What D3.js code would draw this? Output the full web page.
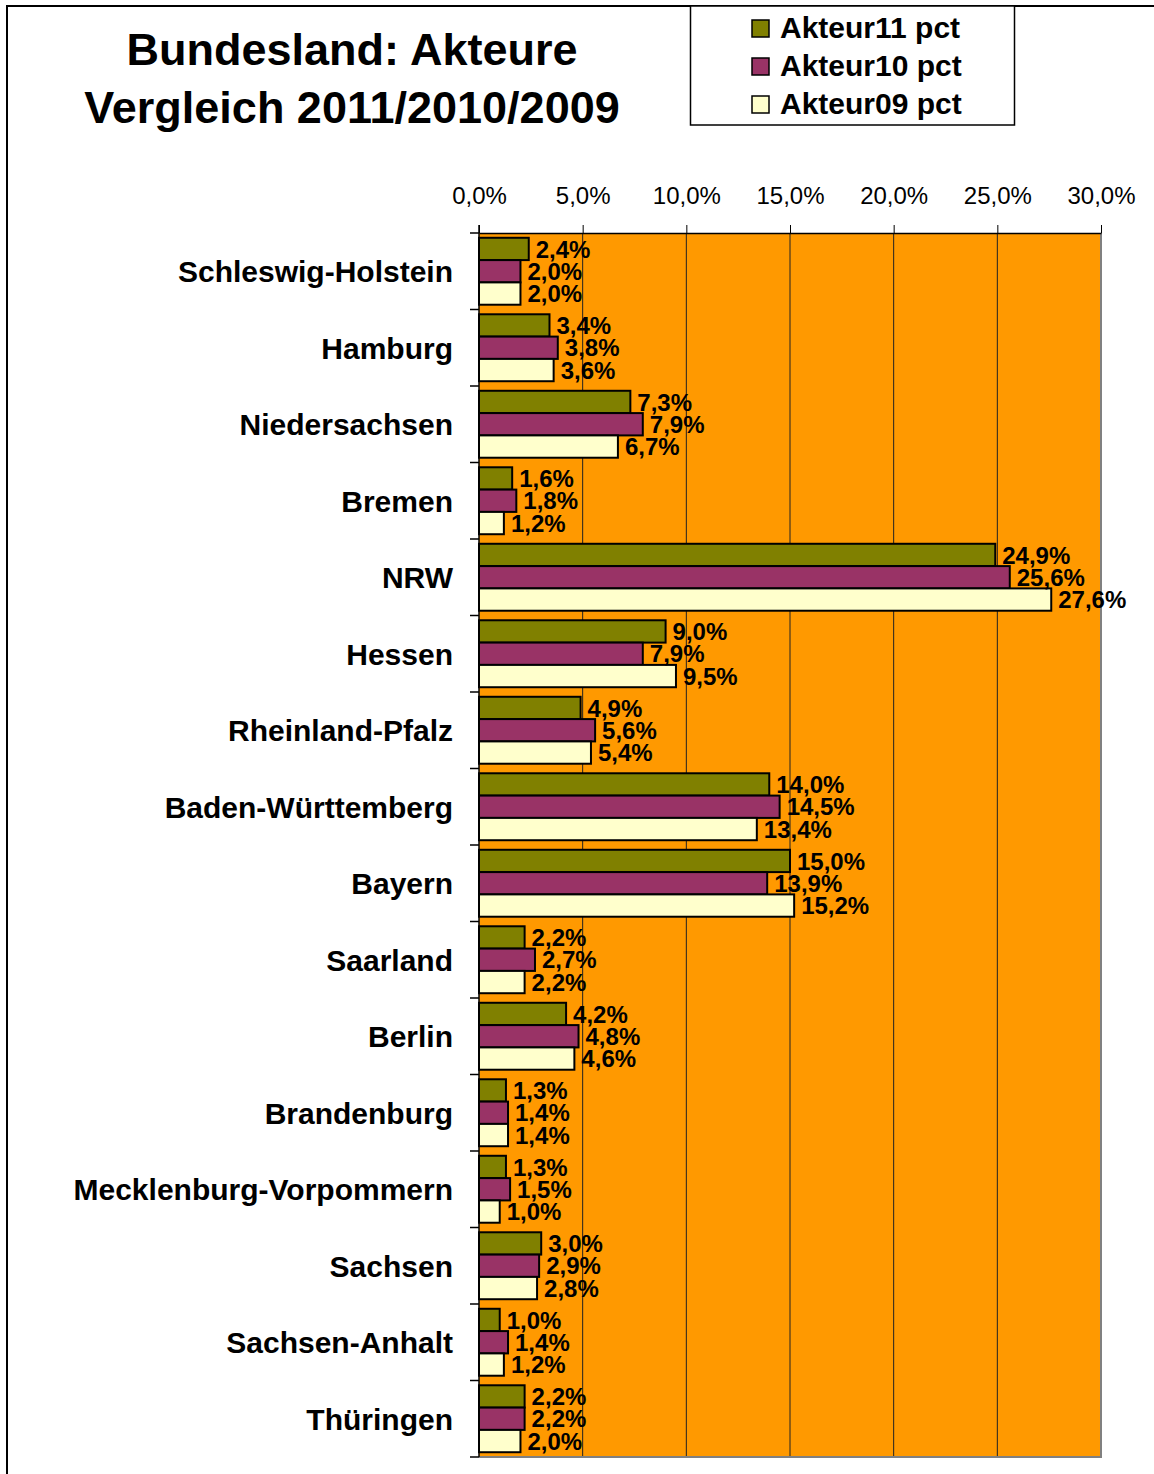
<!DOCTYPE html>
<html>
<head>
<meta charset="utf-8">
<script src="https://cdn.jsdelivr.net/npm/d3@7"></script>
<style>
  body { margin: 0; background: #fff; }
  svg text { font-family: "Liberation Sans", Arial, Helvetica, sans-serif; }
</style>
</head>
<body>
<div id="chart"></div>
<script>
/* Bundesland: Akteure Vergleich 2011/2010/2009 */

const width = 1154;
const height = 1474;

// Data
const categories = [
  "Schleswig-Holstein", "Hamburg", "Niedersachsen", "Bremen", "NRW", "Hessen",
  "Rheinland-Pfalz", "Baden-Württemberg", "Bayern", "Saarland", "Berlin",
  "Brandenburg", "Mecklenburg-Vorpommern", "Sachsen", "Sachsen-Anhalt", "Thüringen"
];
const akteur11 = [2.4, 3.4, 7.3, 1.6, 24.9, 9.0, 4.9, 14.0, 15.0, 2.2, 4.2, 1.3, 1.3, 3.0, 1.0, 2.2];
const akteur10 = [2.0, 3.8, 7.9, 1.8, 25.6, 7.9, 5.6, 14.5, 13.9, 2.7, 4.8, 1.4, 1.5, 2.9, 1.4, 2.2];
const akteur09 = [2.0, 3.6, 6.7, 1.2, 27.6, 9.5, 5.4, 13.4, 15.2, 2.2, 4.6, 1.4, 1.0, 2.8, 1.2, 2.0];
const seriesNames = ["Akteur11 pct", "Akteur10 pct", "Akteur09 pct"];
const seriesColors = ["#808000", "#993366", "#FFFFCC"];
const xTicks = [0, 5, 10, 15, 20, 25, 30];
const titleLines = ["Bundesland: Akteure", "Vergleich 2011/2010/2009"];

const series = [akteur11, akteur10, akteur09];
const fmt = v => v.toFixed(1).replace(".", ",") + "%";

const svg = d3.select("#chart")
  .append("svg")
  .attr("width", width)
  .attr("height", height);

// outer frame
svg.append("rect")
  .attr("x", 7).attr("y", 6)
  .attr("width", width + 20).attr("height", height + 20)
  .attr("fill", "#fff")
  .attr("stroke", "#000")
  .attr("stroke-width", 2);

// scales
const x = d3.scaleLinear().domain([0, 30]).range([479, 1101]);
const y = d3.scaleBand()
  .domain(categories)
  .range([233, 1457])
  .paddingInner(0.125)
  .paddingOuter(0.0625);
const yInner = d3.scaleBand().domain(d3.range(3)).range([0, y.bandwidth()]);

// plot background
svg.append("rect")
  .attr("x", x(0)).attr("y", 233)
  .attr("width", x(30) - x(0)).attr("height", 1457 - 233)
  .attr("fill", "#FF9900");

// gridlines
svg.append("g")
  .selectAll("line")
  .data(xTicks.slice(1, -1))
  .join("line")
  .attr("x1", d => x(d)).attr("x2", d => x(d))
  .attr("y1", 233).attr("y2", 1457)
  .attr("stroke", "#222")
  .attr("stroke-width", 1);

// right and bottom edges of the plot (grey)
svg.append("path")
  .attr("d", `M${x(30)},233V1457H${x(0)}`)
  .attr("fill", "none")
  .attr("stroke", "#808080")
  .attr("stroke-width", 2);

// top value axis
const xAxis = svg.append("g")
  .attr("transform", "translate(0,233)")
  .call(d3.axisTop(x).tickValues(xTicks).tickFormat(d => fmt(d)).tickSize(8).tickSizeOuter(0));
xAxis.select(".domain").attr("stroke", "#000").attr("stroke-width", 1.5);
xAxis.selectAll(".tick line").attr("stroke", "#000");
xAxis.selectAll(".tick text")
  .attr("y", -29)
  .attr("font-size", 24)
  .attr("font-family", "Liberation Sans, Arial, sans-serif")
  .attr("fill", "#000");

// left category axis: line plus ticks at the category boundaries
const step = y.step();
const boundaries = categories.map(c => y(c) - step * y.paddingInner() / 2);
boundaries.push(y(categories[categories.length - 1]) + y.bandwidth() + step * y.paddingInner() / 2);

svg.append("line")
  .attr("x1", x(0)).attr("x2", x(0))
  .attr("y1", 225).attr("y2", 1457)
  .attr("stroke", "#000").attr("stroke-width", 1.5);

svg.append("g")
  .selectAll("line")
  .data(boundaries)
  .join("line")
  .attr("x1", x(0) - 9).attr("x2", x(0))
  .attr("y1", d => d).attr("y2", d => d)
  .attr("stroke", "#000").attr("stroke-width", 1.5);

svg.append("g")
  .selectAll("text")
  .data(categories)
  .join("text")
  .attr("x", 453)
  .attr("y", d => y(d) + y.bandwidth() / 2 + 11)
  .attr("text-anchor", "end")
  .attr("font-size", 30)
  .attr("font-weight", "bold")
  .text(d => d);

// bars
const groups = svg.append("g")
  .selectAll("g")
  .data(categories)
  .join("g")
  .attr("transform", d => `translate(0,${y(d)})`);

groups.selectAll("rect")
  .data((d, i) => series.map((s, k) => ({ k, v: s[i] })))
  .join("rect")
  .attr("x", x(0))
  .attr("y", d => yInner(d.k))
  .attr("width", d => x(d.v) - x(0))
  .attr("height", yInner.bandwidth())
  .attr("fill", d => seriesColors[d.k])
  .attr("stroke", "#000")
  .attr("stroke-width", 2);

groups.selectAll("text")
  .data((d, i) => series.map((s, k) => ({ k, v: s[i] })))
  .join("text")
  .attr("x", d => x(d.v) + 7)
  .attr("y", d => yInner(d.k) + yInner.bandwidth() / 2 + 8.6)
  .attr("font-size", 24)
  .attr("font-weight", "bold")
  .text(d => fmt(d.v));

// title
svg.append("text")
  .attr("x", 352)
  .attr("text-anchor", "middle")
  .attr("font-size", 45)
  .attr("font-weight", "bold")
  .selectAll("tspan")
  .data(titleLines)
  .join("tspan")
  .attr("x", 352)
  .attr("y", (d, i) => 65 + i * 58)
  .text(d => d);

// legend
const legend = svg.append("g");
legend.append("rect")
  .attr("x", 690.5).attr("y", 6)
  .attr("width", 324).attr("height", 119)
  .attr("fill", "#fff")
  .attr("stroke", "#000")
  .attr("stroke-width", 1.5);

const legendRows = legend.selectAll("g")
  .data(seriesNames)
  .join("g")
  .attr("transform", (d, i) => `translate(752,${20 + i * 38})`);

legendRows.append("rect")
  .attr("width", 17).attr("height", 17)
  .attr("fill", (d, i) => seriesColors[i])
  .attr("stroke", "#000")
  .attr("stroke-width", 1.5);

legendRows.append("text")
  .attr("x", 28)
  .attr("y", 18)
  .attr("font-size", 30)
  .attr("font-weight", "bold")
  .text(d => d);
</script>
</body>
</html>
